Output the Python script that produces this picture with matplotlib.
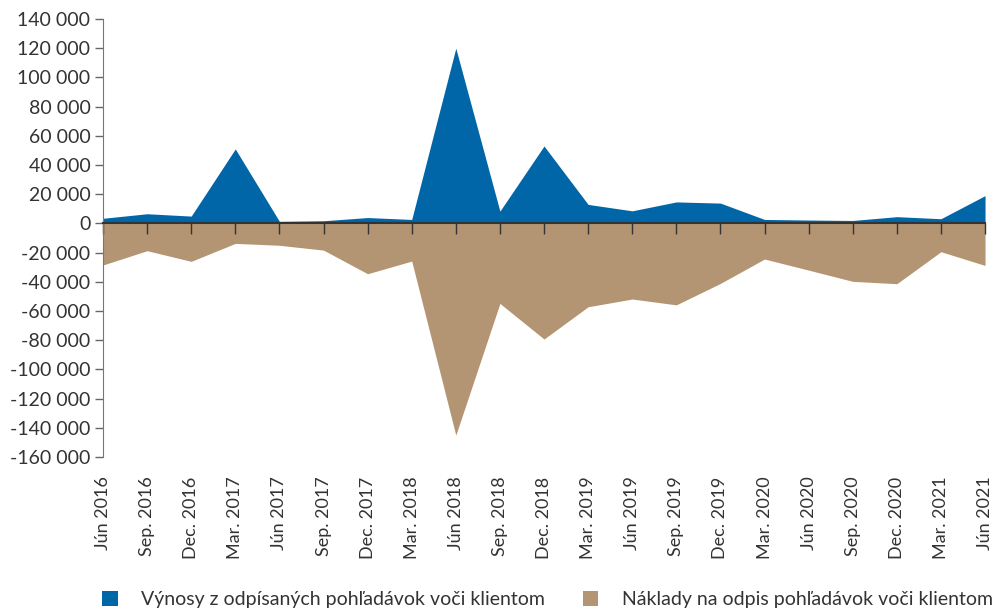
import numpy as np
import matplotlib
matplotlib.use("Agg")
import matplotlib.pyplot as plt

# štvrťroky
labels = ["Jún 2016", "Sep. 2016", "Dec. 2016", "Mar. 2017", "Jún 2017", "Sep. 2017",
          "Dec. 2017", "Mar. 2018", "Jún 2018", "Sep. 2018", "Dec. 2018", "Mar. 2019",
          "Jún 2019", "Sep. 2019", "Dec. 2019", "Mar. 2020", "Jún 2020", "Sep. 2020",
          "Dec. 2020", "Mar. 2021", "Jún 2021"]

vynosy = [3500, 6600, 5000, 51000, 1400, 1800, 4000, 2700, 120000, 8400, 53000,
          13000, 8600, 14700, 13900, 2700, 2300, 2000, 4600, 3200, 19000]
naklady = [-28500, -18700, -26000, -13700, -15000, -18300, -34500, -25800, -145000,
           -54800, -79200, -57100, -51800, -55800, -41100, -24400, -32000, -39700,
           -41300, -19400, -28800]

blue = "#0066a8"
brown = "#b39573"
txt = "#333333"

plt.rcParams['font.family'] = ['Lato', 'DejaVu Sans']

fig = plt.figure(figsize=(9.97, 6.10), dpi=100)
ax = fig.add_axes([0.1033, 0.2508, 0.8847, 0.7181])

x = np.arange(len(labels))
ax.fill_between(x, vynosy, 0, color=blue, linewidth=0,
                label="Výnosy z odpísaných pohľadávok voči klientom")
ax.fill_between(x, naklady, 0, color=brown, linewidth=0,
                label="Náklady na odpis pohľadávok voči klientom")

ax.set_xlim(0, len(labels) - 1)
ax.set_ylim(-160000, 140000)
yt = np.arange(-160000, 140001, 20000)
ax.set_yticks(yt)
ax.set_yticklabels([f"{v:,}".replace(",", " ") for v in yt], fontsize=14, color=txt)
ax.tick_params(axis='y', length=6, width=1, color="#666666", pad=3)

for s in ["top", "right"]:
    ax.spines[s].set_visible(False)
ax.spines["left"].set_color("#777777")
ax.spines["bottom"].set_position(("data", 0))
ax.spines["bottom"].set_color("#333333")
ax.spines["bottom"].set_linewidth(1.5)
ax.spines["bottom"].set_zorder(3)
ax.set_xticks(x)
ax.tick_params(axis='x', length=8, width=1, color="#333333", labelbottom=False)

sec = ax.secondary_xaxis(0)
sec.set_xticks(x)
sec.set_xticklabels(labels, rotation=90, fontsize=13, color=txt)
sec.tick_params(axis='x', length=0, pad=14)
sec.spines["bottom"].set_visible(False)

fig.legend(loc="lower center", ncol=2, frameon=False, fontsize=14,
           bbox_to_anchor=(0.549, -0.026), handlelength=0.8, handleheight=0.8,
           handletextpad=1.2, columnspacing=1.95, labelcolor=txt)

fig.savefig("out.png", dpi=100)
